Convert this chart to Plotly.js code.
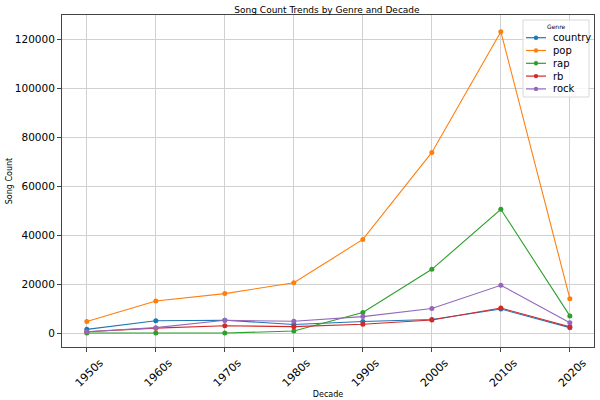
<!DOCTYPE html>
<html>
<head>
<meta charset="utf-8">
<script src="https://cdn.plot.ly/plotly-3.0.1.min.js"></script>
<style>html,body{margin:0;padding:0;background:#fff;}#chart{width:600px;height:400px;}</style>
</head>
<body>
<div id="chart"></div>
<script>
const decades = ["1950s","1960s","1970s","1980s","1990s","2000s","2010s","2020s"];
const genres = ["country","pop","rap","rb","rock"];
const colors = ["#1f77b4","#ff7f0e","#2ca02c","#d62728","#9467bd"];
const country = [1500, 5000, 5200, 3500, 4700, 5500, 9800, 2200];
const pop = [4700, 13100, 16100, 20500, 38200, 73700, 123000, 14000];
const rap = [0, 0, 0, 800, 8400, 26000, 50500, 7000];
const rb = [500, 2000, 3000, 2600, 3600, 5300, 10200, 2600];
const rock = [500, 2200, 5200, 4800, 6700, 10000, 19500, 4200];
const series = [country, pop, rap, rb, rock];

const traces = series.map((vals, i) => ({
  x: decades, y: vals, name: genres[i], type: "scatter", mode: "lines+markers",
  line: {color: colors[i], width: 1.1},
  marker: {color: colors[i], size: 5},
  showlegend: false
}));

// custom legend (matplotlib-like compact layout), in pixel space converted to paper coords
const L = 62, T = 15, W = 532, H = 332;
const px = v => (v - L) / W;
const py = v => (T + H - v) / H;
const shapes = [{
  type: "rect", xref: "paper", yref: "paper",
  x0: px(523), x1: px(589), y0: py(97), y1: py(20),
  fillcolor: "rgba(255,255,255,0.8)", line: {color: "#d8d8d8", width: 1}, layer: "above"
}];
const annotations = [{
  text: "Genre", xref: "paper", yref: "paper", x: px(556), y: py(26.5),
  xanchor: "center", yanchor: "middle", showarrow: false, font: {size: 6}
}];
genres.forEach((g, i) => {
  const yy = 37.7 + i * 12.8;
  shapes.push({type: "line", xref: "paper", yref: "paper", x0: px(526), x1: px(546), y0: py(yy), y1: py(yy),
    line: {color: colors[i], width: 1.2}, layer: "above"});
  shapes.push({type: "circle", xref: "paper", yref: "paper", x0: px(533.8), x1: px(538.2), y0: py(yy + 2.2), y1: py(yy - 2.2),
    fillcolor: colors[i], line: {color: colors[i], width: 0}, layer: "above"});
  annotations.push({text: g, xref: "paper", yref: "paper", x: px(551), y: py(yy),
    xanchor: "left", yanchor: "middle", showarrow: false, font: {size: 10}});
});

const layout = {
  width: 600, height: 400,
  margin: {l: L, r: 600 - L - W, t: T, b: 400 - T - H},
  paper_bgcolor: "#fff", plot_bgcolor: "#fff",
  font: {family: "DejaVu Sans", color: "#000"},
  title: {text: "Song Count Trends by Genre and Decade", font: {size: 9}, x: 0.545, xanchor: "center", y: 0.983, yanchor: "top"},
  xaxis: {
    type: "category", range: [-0.36, 7.35],
    title: {text: "Decade", font: {size: 8}, standoff: 0},
    tickangle: -45, tickfont: {size: 11}, ticklabelshift: 13, ticklabelstandoff: 0,
    showgrid: true, gridcolor: "#d0d0d0", gridwidth: 1,
    showline: true, linecolor: "#444", linewidth: 1, mirror: true,
    ticks: "outside", ticklen: 4, tickcolor: "#444", zeroline: false
  },
  yaxis: {
    range: [-5700, 129800],
    title: {text: "Song Count", font: {size: 8}, standoff: 1},
    tickvals: [0, 20000, 40000, 60000, 80000, 100000, 120000],
    ticktext: ["0","20000","40000","60000","80000","100000","120000"],
    tickfont: {size: 10.5},
    showgrid: true, gridcolor: "#d0d0d0", gridwidth: 1,
    showline: true, linecolor: "#444", linewidth: 1, mirror: true,
    ticks: "outside", ticklen: 4, tickcolor: "#444", zeroline: false
  },
  shapes: shapes,
  annotations: annotations,
  showlegend: false
};

Plotly.newPlot("chart", traces, layout, {displayModeBar: false, staticPlot: true});
</script>
</body>
</html>
